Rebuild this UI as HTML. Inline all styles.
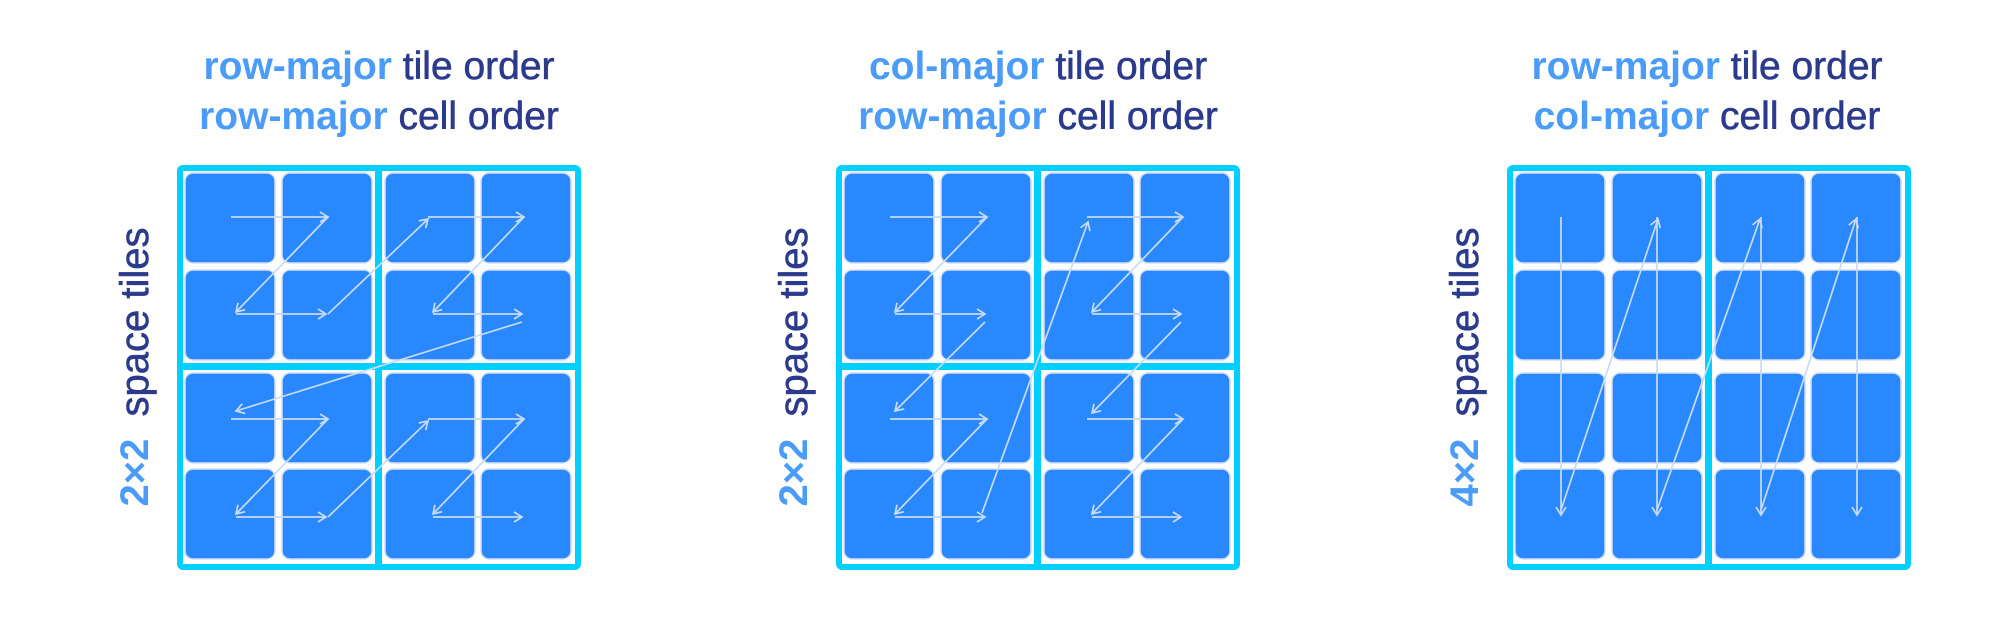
<!DOCTYPE html>
<html><head><meta charset="utf-8"><style>
html,body{margin:0;padding:0;background:#fff;}
svg{display:block;}
.t{font-family:"Liberation Sans",sans-serif;font-size:39px;}
.v{font-family:"Liberation Sans",sans-serif;font-size:40px;}
.b{fill:#4a9cf8;font-weight:bold;}
.d{fill:#2b3a8c;stroke:#2b3a8c;stroke-width:0.6;}
.ar{stroke:#c8dbf7;stroke-width:1.7;fill:none;marker-end:url(#ah);}
</style></head><body>
<svg width="2000" height="624" viewBox="0 0 2000 624" xmlns="http://www.w3.org/2000/svg">
<defs>
<marker id="ah" markerUnits="userSpaceOnUse" markerWidth="14" markerHeight="14" refX="10" refY="6" orient="auto">
<path d="M2,1 L10,6 L2,11" fill="none" stroke="#c8dbf7" stroke-width="1.7"/>
</marker>
<g id="cells">
<g fill="#2a88ff" stroke="#d3def6" stroke-width="1.5">
<rect x="8" y="8" width="90" height="90" rx="8"/><rect x="105" y="8" width="90" height="90" rx="8"/><rect x="208" y="8" width="90" height="90" rx="8"/><rect x="304" y="8" width="90" height="90" rx="8"/>
<rect x="8" y="105" width="90" height="90" rx="8"/><rect x="105" y="105" width="90" height="90" rx="8"/><rect x="208" y="105" width="90" height="90" rx="8"/><rect x="304" y="105" width="90" height="90" rx="8"/>
<rect x="8" y="208" width="90" height="90" rx="8"/><rect x="105" y="208" width="90" height="90" rx="8"/><rect x="208" y="208" width="90" height="90" rx="8"/><rect x="304" y="208" width="90" height="90" rx="8"/>
<rect x="8" y="304" width="90" height="90" rx="8"/><rect x="105" y="304" width="90" height="90" rx="8"/><rect x="208" y="304" width="90" height="90" rx="8"/><rect x="304" y="304" width="90" height="90" rx="8"/>
</g>
</g>
<rect id="frame" x="3" y="3" width="398" height="399" rx="3" fill="#fff" stroke="#00d0ff" stroke-width="6"/>
</defs>

<!-- Grid 1 -->
<text class="t" x="379" y="79" text-anchor="middle"><tspan class="b">row-major</tspan><tspan class="d"> tile order</tspan></text>
<text class="t" x="379" y="129" text-anchor="middle"><tspan class="b">row-major</tspan><tspan class="d"> cell order</tspan></text>
<text class="v" transform="translate(148,367) rotate(-90)" text-anchor="middle"><tspan class="b">2×2</tspan><tspan class="d" xml:space="preserve">  space tiles</tspan></text>
<g transform="translate(177,165)">
<use href="#frame"/>
<rect x="198" y="0" width="7" height="404" fill="#00d0ff"/>
<rect x="0" y="198" width="404" height="7" fill="#00d0ff"/>
<use href="#cells"/>
<path class="ar" d="M54,52 H151"/><path class="ar" d="M151,52 L59,147"/><path class="ar" d="M59,149 H149"/><path class="ar" d="M151,149 L251,54"/>
<path class="ar" d="M251,52 H347"/><path class="ar" d="M347,52 L256,147"/><path class="ar" d="M256,149 H345"/><path class="ar" d="M345,157 L59,246"/>
<path class="ar" d="M54,254 H151"/><path class="ar" d="M151,254 L59,349"/><path class="ar" d="M59,352 H149"/><path class="ar" d="M151,352 L251,256"/>
<path class="ar" d="M251,254 H347"/><path class="ar" d="M347,254 L256,349"/><path class="ar" d="M256,352 H345"/>
</g>

<!-- Grid 2 -->
<text class="t" x="1038" y="79" text-anchor="middle"><tspan class="b">col-major</tspan><tspan class="d"> tile order</tspan></text>
<text class="t" x="1038" y="129" text-anchor="middle"><tspan class="b">row-major</tspan><tspan class="d"> cell order</tspan></text>
<text class="v" transform="translate(807,367) rotate(-90)" text-anchor="middle"><tspan class="b">2×2</tspan><tspan class="d" xml:space="preserve">  space tiles</tspan></text>
<g transform="translate(836,165)">
<use href="#frame"/>
<rect x="198" y="0" width="7" height="404" fill="#00d0ff"/>
<rect x="0" y="198" width="404" height="7" fill="#00d0ff"/>
<use href="#cells"/>
<path class="ar" d="M54,52 H151"/><path class="ar" d="M151,52 L59,147"/><path class="ar" d="M59,149 H149"/><path class="ar" d="M149,157 L59,246"/>
<path class="ar" d="M54,254 H151"/><path class="ar" d="M151,254 L59,349"/><path class="ar" d="M59,352 H149"/><path class="ar" d="M146,348 L252,57"/>
<path class="ar" d="M251,52 H347"/><path class="ar" d="M347,52 L256,147"/><path class="ar" d="M256,149 H345"/><path class="ar" d="M345,157 L256,248"/>
<path class="ar" d="M251,254 H347"/><path class="ar" d="M347,254 L256,349"/><path class="ar" d="M256,352 H345"/>
</g>

<!-- Grid 3 -->
<text class="t" x="1707" y="79" text-anchor="middle"><tspan class="b">row-major</tspan><tspan class="d"> tile order</tspan></text>
<text class="t" x="1707" y="129" text-anchor="middle"><tspan class="b">col-major</tspan><tspan class="d"> cell order</tspan></text>
<text class="v" transform="translate(1478,367) rotate(-90)" text-anchor="middle"><tspan class="b">4×2</tspan><tspan class="d" xml:space="preserve">  space tiles</tspan></text>
<g transform="translate(1507,165)">
<use href="#frame"/>
<rect x="198" y="0" width="7" height="404" fill="#00d0ff"/>
<use href="#cells"/>
<path class="ar" d="M54,52 V350"/><path class="ar" d="M54,345 L151,54"/>
<path class="ar" d="M150,52 V350"/><path class="ar" d="M150,345 L253,54"/>
<path class="ar" d="M254,52 V350"/><path class="ar" d="M254,345 L349,54"/>
<path class="ar" d="M350,52 V350"/>
</g>
</svg>
</body></html>
